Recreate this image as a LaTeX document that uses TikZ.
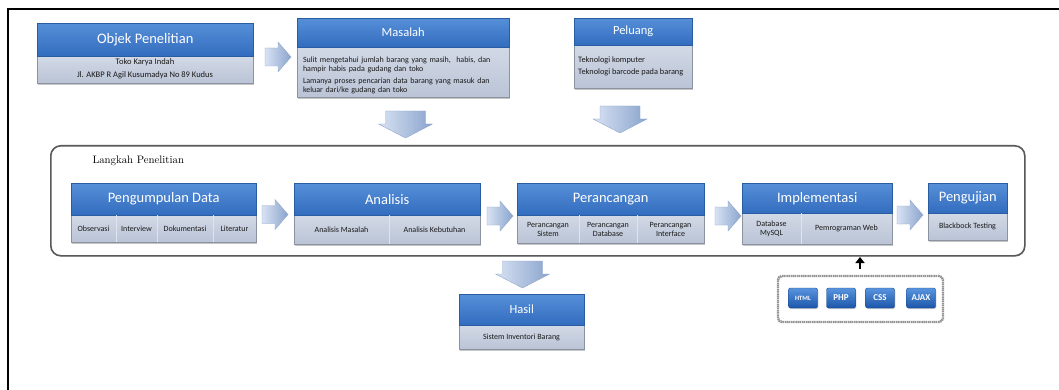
\documentclass[tikz,border=0pt]{standalone}
\usepackage{fontspec}
\newfontfamily\carlito{Carlito}
\usetikzlibrary{calc}
\usetikzlibrary{shadows}
\usetikzlibrary{arrows.meta}
\definecolor{headtop}{RGB}{86,143,216}
\definecolor{headbot}{RGB}{50,108,190}
\definecolor{bodytop}{RGB}{210,217,230}
\definecolor{bodybot}{RGB}{186,196,214}
\definecolor{arrowlight}{RGB}{216,226,243}
\definecolor{arrowdark}{RGB}{138,164,205}
\definecolor{arrowedge}{RGB}{145,166,202}
\definecolor{btntop}{RGB}{88,148,222}
\definecolor{btnbot}{RGB}{28,86,170}
\tikzstyle{head}=[draw=headbot!85!black, line width=0.4pt, top color=headtop, bottom color=headbot, text=white, inner sep=0pt, font=\carlito\fontsize{14.5}{16}\selectfont]
\tikzstyle{smallhead}=[head, font=\carlito\fontsize{12.5}{14}\selectfont]
\tikzstyle{body}=[draw=bodybot!75!black, line width=0.4pt, top color=bodytop, bottom color=bodybot, inner sep=0pt, drop shadow={shadow xshift=1.2pt, shadow yshift=-1.5pt, opacity=0.45}]
\tikzstyle{celltext}=[font=\carlito\fontsize{8}{9}\selectfont, text=black!90, align=center, inner sep=0pt]
\tikzstyle{divider}=[draw=white!55!bodybot, line width=0.7pt]
\tikzstyle{blockarrow}=[draw=arrowedge, line width=0.4pt, left color=arrowlight, right color=arrowdark]
\tikzstyle{frame}=[draw=black!65, fill=white, line width=1.6pt, rounded corners=10pt, inner sep=0pt, drop shadow={shadow xshift=0.8pt, shadow yshift=-0.8pt, opacity=0.3}]
\tikzstyle{techbox}=[draw=black!42, line width=2.4pt, dash pattern=on 1.5pt off 0.6pt, rounded corners=4pt, inner sep=0pt]
\tikzstyle{btn}=[draw=btnbot!80!black, line width=0.4pt, top color=btntop, bottom color=btnbot, rounded corners=2pt, text=white, inner sep=0pt, minimum width=29, minimum height=20, font=\carlito\bfseries\fontsize{9}{10}\selectfont, drop shadow={shadow xshift=0.8pt, shadow yshift=-1pt, opacity=0.4}]
\newcommand{\panel}[8][head]{% [header style] {name} {left} {top} {width} {header height} {body height} {title}
  \node[body, minimum width=#5, minimum height=#7, anchor=north west] (#2b) at (#3,#4+#6) {};
  \node[#1, minimum width=#5, minimum height=#6, anchor=north west] (#2h) at (#3,#4) {#8};
}
\newcommand{\rightblock}[2]{% centre of a block arrow pointing right
  \path[blockarrow] (#1-13,#2-9) -- (#1,#2-9) -- (#1,#2-15) -- (#1+13,#2) -- (#1,#2+15) -- (#1,#2+9) -- (#1-13,#2+9) -- cycle;
}
\newcommand{\downblock}[2]{% top centre of a block arrow pointing down
  \path[blockarrow] (#1-20,#2) -- (#1+20,#2) -- (#1+20,#2+13) -- (#1+27,#2+13) -- (#1,#2+27) -- (#1-27,#2+13) -- (#1-20,#2+13) -- cycle;
}

\begin{document}
\begin{tikzpicture}[x=1pt, y=-1pt]
\useasboundingbox (0,0) rectangle (1059,390);
% outer border (top and left only)
\draw[line width=2.6pt] (8,390) -- (8,9) -- (1059,9);

% top row
\panel{obj}{37}{23}{216}{33}{27}{Objek Penelitian}
\node[celltext, font=\carlito\fontsize{8.5}{13}\selectfont] (objtxt) at (145,68.5) {Toko Karya Indah\\Jl. AKBP R Agil Kusumadya No 89 Kudus};
\rightblock{278}{57}
\panel[smallhead]{mas}{297}{18}{212}{29}{50}{Masalah}
\node[celltext, align=left, text width=204, font=\carlito\fontsize{8}{8.3}\selectfont] (mastxt) at (405,75.5)
  {\makebox[204pt][s]{Sulit mengetahui jumlah barang yang masih,\ \ habis, dan}\\hampir habis pada gudang dan toko\\[4.5pt]
   \makebox[204pt][s]{Lamanya proses pencarian data barang yang masuk dan}\\keluar dari/ke gudang dan toko};
\panel[smallhead]{pel}{574}{18}{118}{27}{43}{Peluang}
\node[celltext, align=left, anchor=west, font=\carlito\fontsize{8.3}{12}\selectfont] (peltxt) at (578,66) {Teknologi komputer\\Teknologi barcode pada barang};
\downblock{405.5}{111}
\downblock{620}{106}

% langkah penelitian
\node[frame, minimum width=974, minimum height=110, anchor=north west] (steps) at (50,145) {};
\node[anchor=west, font=\fontsize{10.8}{12}\selectfont] (stepslbl) at (89,161) {Langkah Penelitian};

\panel{peng}{71}{183}{185}{32}{27}{Pengumpulan Data}
\draw[divider] (116,215) -- (116,242);
\draw[divider] (157,215) -- (157,242);
\draw[divider] (213,215) -- (213,242);
\node[celltext] (obs) at (93.5,228.5) {Observasi};
\node[celltext] (intv) at (136.5,228.5) {Interview};
\node[celltext] (dok) at (185,228.5) {Dokumentasi};
\node[celltext] (lit) at (234.5,228.5) {Literatur};
\rightblock{275}{214.5}

\panel{ana}{294}{183}{186}{32}{29}{Analisis}
\draw[divider] (389,215) -- (389,244);
\node[celltext] (anamas) at (341.5,229.5) {Analisis Masalah};
\node[celltext] (anakeb) at (434.5,229.5) {Analisis Kebutuhan};
\rightblock{500}{216}

\panel{per}{517}{183}{187}{32}{28}{Perancangan}
\draw[divider] (579,215) -- (579,243);
\draw[divider] (637,215) -- (637,243);
\node[celltext] (persis) at (548,229) {Perancangan\\Sistem};
\node[celltext] (perdb) at (608,229) {Perancangan\\Database};
\node[celltext] (perint) at (670.5,229) {Perancangan\\Interface};
\rightblock{728}{216}

\panel{imp}{742}{183}{150}{30}{31}{Implementasi}
\draw[divider] (801,213) -- (801,244);
\node[celltext] (impdb) at (771.5,228.5) {Database\\MySQL};
\node[celltext] (impweb) at (846.5,228.5) {Pemrograman Web};
\rightblock{910}{215}

\panel{uji}{928}{183}{79}{30}{27}{Pengujian}
\node[celltext] (ujitxt) at (967.5,226.5) {Blackbock Testing};

% hasil
\downblock{522.5}{261}
\panel[smallhead]{has}{459}{294}{125}{31}{24}{Hasil}
\node[celltext] (hastxt) at (521.5,337) {Sistem Inventori Barang};

% web technologies
\node[techbox, minimum width=165, minimum height=46] (tech) at (860.5,299) {};
\node[btn, font=\carlito\bfseries\fontsize{6.5}{7}\selectfont] (html) at (803,298) {HTML};
\node[btn] (php) at (841,298) {PHP};
\node[btn] (css) at (880,298) {CSS};
\node[btn] (ajax) at (921,298) {AJAX};
\coordinate (upfoot) at (860,269);
\coordinate (uptip) at (860,257);
\draw[line width=1.8pt, -{Triangle[width=9pt,length=6pt]}] (upfoot) -- (uptip);
\end{tikzpicture}
\end{document}
